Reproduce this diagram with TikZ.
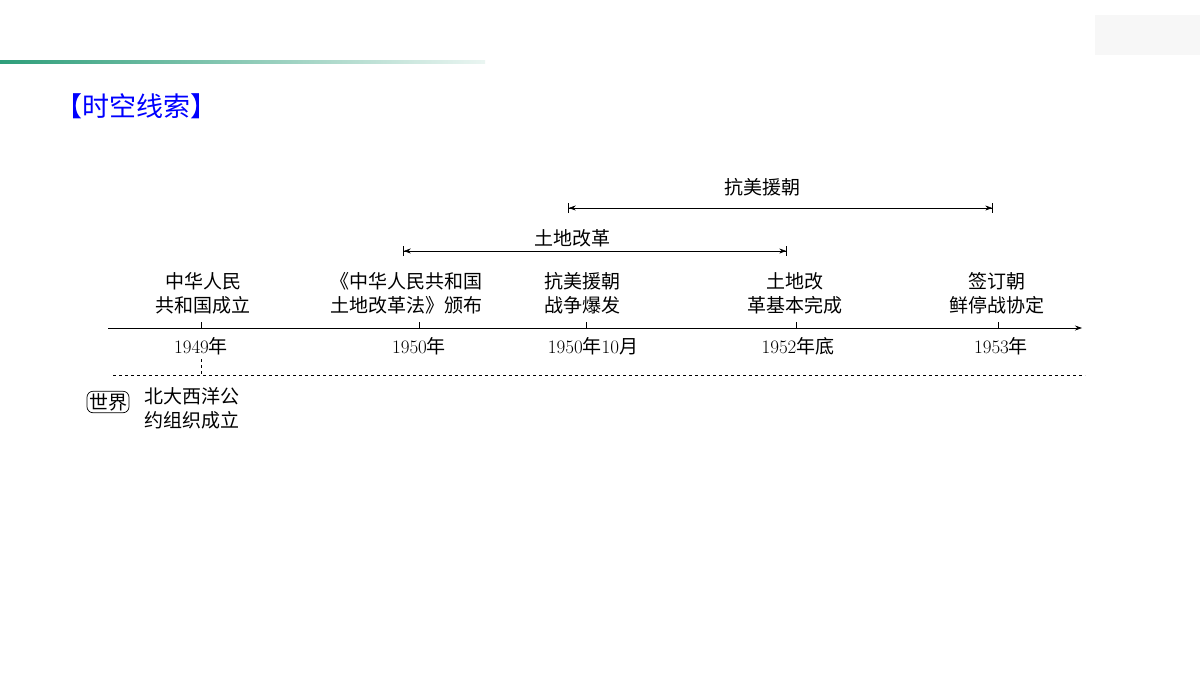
\documentclass[tikz,border=0pt]{standalone}
\usepackage{fontspec}
\newfontfamily\cjk{Noto Sans CJK SC}
\usetikzlibrary{arrows.meta}
\definecolor{tl}{HTML}{2E9E7A}
\begin{document}
\begin{tikzpicture}[x=1pt,y=-1pt,
  lab/.style={font=\fontsize{19}{24}\selectfont\cjk, align=center, inner sep=0pt},
  yr/.style={font=\fontsize{19}{24}\selectfont, inner sep=0pt},
  span/.style={{Bar[width=10pt]Stealth[length=7pt,width=5pt]}-{Stealth[length=7pt,width=5pt]Bar[width=10pt]}, line width=0.7pt}]
\useasboundingbox (0,0) rectangle (1200,675);
\fill[white] (0,0) rectangle (1200,675);
\fill[black!3] (1095,15) rectangle (1200,55);
\shade[left color=tl, right color=tl!10] (0,60) rectangle (485,63.5);
\node[anchor=west, text=blue, font=\fontsize{27}{30}\selectfont\cjk, inner sep=0pt] (title) at (55,106) {【时空线索】};
% axis
\coordinate (a0) at (108,328); \coordinate (a1) at (1082,328);
\draw[line width=0.7pt, -{Stealth[length=7pt,width=5pt]}] (a0) -- (a1);
\foreach \x/\n in {201/t1,419/t2,586/t3,796/t4,998/t5}{
  \coordinate (\n) at (\x,328);
  \draw[line width=0.7pt] (\n) -- ++(0,-6);}
\node[yr] (y1) at (201,346) {1949{\cjk 年}};
\node[yr] (y2) at (419,346) {1950{\cjk 年}};
\node[yr] (y3) at (593,346) {1950{\cjk 年}10{\cjk 月}};
\node[yr] (y4) at (798,346) {1952{\cjk 年底}};
\node[yr] (y5) at (1001,346) {1953{\cjk 年}};
\node[lab] (e1) at (203,293) {中华人民\\共和国成立};
\node[lab] (e2) at (406,293) {《中华人民共和国\\土地改革法》颁布};
\node[lab] (e3) at (582,293) {抗美援朝\\战争爆发};
\node[lab] (e4) at (795,293) {土地改\\革基本完成};
\node[lab] (e5) at (997,293) {签订朝\\鲜停战协定};
% spans
\coordinate (s1) at (568,208); \coordinate (s2) at (993,208);
\draw[span] (s1) -- (s2);
\node[lab] (k) at (762,187) {抗美援朝};
\coordinate (r1) at (403,251); \coordinate (r2) at (787,251);
\draw[span] (r1) -- (r2);
\node[lab] (r) at (572,238) {土地改革};
% world
\coordinate (d0) at (113,375); \coordinate (d1) at (1085,375);
\draw[dashed, line width=0.7pt] (d0) -- (d1);
\coordinate (v0) at (201,359); \coordinate (v1) at (201,375);
\draw[dashed, line width=0.7pt] (v0) -- (v1);
\node[draw, rounded corners=6pt, line width=0.7pt, inner sep=2pt, font=\fontsize{19}{24}\selectfont\cjk] (w) at (108,402) {世界};
\node[lab, anchor=west] (n) at (144,408) {北大西洋公\\约组织成立};
\end{tikzpicture}
\end{document}
